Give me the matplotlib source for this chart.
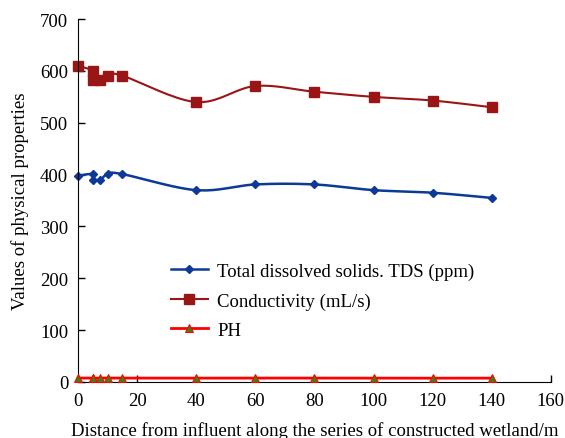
import numpy as np
import matplotlib.pyplot as plt

dist = [0, 5, 5, 7.5, 10, 15, 40, 60, 80, 100, 120, 140]
tds = [398, 401, 390, 390, 401, 401, 370, 381, 381, 370, 365, 355]
cond = [610, 600, 582, 582, 591, 591, 540, 571, 560, 550, 543, 530]
ph = [7.2, 7.3, 7.1, 7.2, 7.3, 7.2, 7.1, 7.2, 7.2, 7.1, 7.0, 7.1]

labels = ["Total dissolved solids. TDS (ppm)", "Conductivity (mL/s)", "PH"]


def smooth(x, y, n=20):
    # excel-like smoothed line (catmull-rom through the points)
    x = np.asarray(x, float)
    y = np.asarray(y, float)
    px = np.concatenate([[x[0]], x, [x[-1]]])
    py = np.concatenate([[y[0]], y, [y[-1]]])
    xs, ys = [], []
    t = np.linspace(0, 1, n)
    for i in range(1, len(px) - 2):
        p0, p1, p2, p3 = (np.array([px[j], py[j]]) for j in range(i - 1, i + 3))
        c1 = p1 + (p2 - p0) / 6
        c2 = p2 - (p3 - p1) / 6
        b = ((1 - t) ** 3)[:, None] * p1 + (3 * (1 - t) ** 2 * t)[:, None] * c1 \
            + (3 * (1 - t) * t ** 2)[:, None] * c2 + (t ** 3)[:, None] * p2
        xs.extend(b[:, 0])
        ys.extend(b[:, 1])
    return xs, ys


plt.rcParams['font.family'] = 'Liberation Serif'
plt.rcParams['font.size'] = 13.5

fig = plt.figure(figsize=(5.65, 4.39), dpi=100)
ax = fig.add_axes([0.138, 0.128, 0.837, 0.826])

blue = '#0D3A96'
dred = '#9A1515'

sx, sy = smooth(dist, tds)
ax.plot(sx, sy, color=blue, lw=1.8, clip_on=False)
ax.plot(dist, tds, ls='none', marker='D', ms=4, color=blue, clip_on=False)
ax.plot([], [], color=blue, lw=1.8, marker='D', ms=4, label=labels[0])

sx, sy = smooth(dist, cond)
ax.plot(sx, sy, color=dred, lw=1.5, clip_on=False)
ax.plot(dist, cond, ls='none', marker='s', ms=6.5, color=dred, clip_on=False)
ax.plot([], [], color=dred, lw=1.5, marker='s', ms=6.5, label=labels[1])

ax.plot(dist, ph, color='#FF0000', lw=2, marker='^', ms=6,
        markerfacecolor='#4A7A12', markeredgecolor='#FF0000', markeredgewidth=0.7,
        clip_on=False, label=labels[2], zorder=5)

ax.set_xlim(0, 160)
ax.set_ylim(0, 700)
ax.set_xticks(range(0, 161, 20))
ax.set_yticks(range(0, 701, 100))
ax.spines['top'].set_visible(False)
ax.spines['right'].set_visible(False)
ax.tick_params(direction='in', length=5, width=1, pad=7)
ax.set_xlabel('Distance from influent along the series of constructed wetland/m', labelpad=9)
ax.set_ylabel('Values of physical properties', labelpad=8)

ax.legend(loc='upper left', bbox_to_anchor=(0.16, 0.375), frameon=False,
          handlelength=2.0, handletextpad=0.5, labelspacing=0.65, fontsize=13.5)

plt.savefig('out.png')
plt.close()
